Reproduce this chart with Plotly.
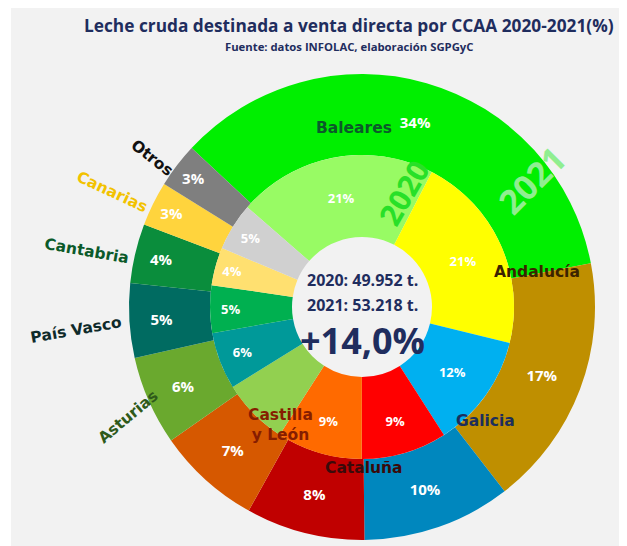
import plotly.graph_objects as go

# page has an 8px body margin; figure is placed at (8, 8)
OFF = 8
W, H = 627 - OFF, 546 - OFF

regions = ["Baleares", "Andalucía", "Galicia", "Cataluña", "Castilla y León",
           "Asturias", "País Vasco", "Cantabria", "Canarias", "Otros"]
share_2021 = [34, 17, 10, 8, 7, 6, 5, 4, 3, 3]
share_2020 = [21, 21, 12, 9, 9, 7, 6, 5, 4, 5]
show_2020 = [True, True, True, True, True, False, True, True, True, True]

colors_2021 = ["#00ef00", "#bf8f00", "#0087be", "#c00000", "#d65800",
               "#6aa92e", "#006b61", "#0a8d3c", "#ffd43d", "#7f7f7f"]
colors_2020 = ["#98fb64", "#ffff00", "#00b0f0", "#ff0000", "#ff6a00",
               "#92d050", "#009999", "#00b050", "#ffe070", "#d0d0d0"]

tons_2020 = "49.952"
tons_2021 = "53.218"
growth = "+14,0%"


def px(x, y):
    return (x - OFF) / W, 1 - (y - OFF) / H


cx, cy = 362, 307
R_out, R_mid, R_in = 233, 152, 70

text_2021 = [f"{v}%" for v in share_2021]
text_2020 = [f"{v}%" if s else "" for v, s in zip(share_2020, show_2020)]


def dom(r):
    x0, y1 = px(cx - r, cy - r)
    x1, y0 = px(cx + r, cy + r)
    return dict(x=[x0, x1], y=[max(y0, 0), y1])


fig = go.Figure()
fig.add_trace(go.Pie(
    labels=regions, values=share_2021, sort=False, direction="clockwise",
    rotation=-47, hole=R_mid / R_out,
    marker=dict(colors=colors_2021, line=dict(width=0)),
    text=text_2021, texttemplate="<b>%{text}</b>", textposition="inside",
    insidetextorientation="horizontal",
    textfont=dict(family="Open Sans", size=15, color="white"),
    domain=dom(R_out),
    showlegend=False, hoverinfo="label+value",
))
fig.add_trace(go.Pie(
    labels=regions, values=share_2020, sort=False, direction="clockwise",
    rotation=-49, hole=R_in / R_mid,
    marker=dict(colors=colors_2020, line=dict(width=0)),
    text=text_2020, texttemplate="<b>%{text}</b>", textposition="inside",
    insidetextorientation="horizontal",
    textfont=dict(family="Open Sans", size=13, color="white"),
    domain=dom(R_mid),
    showlegend=False, hoverinfo="label+value",
))

ann = []


def add(text, x, y, size, color, angle=0, family="DejaVu Sans"):
    ax, ay = px(x, y)
    ann.append(dict(text=text, x=ax, y=ay, xref="paper", yref="paper",
                    showarrow=False, textangle=angle,
                    font=dict(family=family, size=size, color=color),
                    xanchor="center", yanchor="middle"))


add("<b>Leche cruda destinada a venta directa por CCAA 2020-2021(%)</b>", 349, 25, 17.3, "#1f2d5e", family="Open Sans")
add("<b>Fuente: datos INFOLAC, elaboración SGPGyC</b>", 349, 46, 11.3, "#1f2d5e", family="Open Sans")

add("<b>Baleares</b>", 354, 128, 15.5, "#0b5a2a")
add("<b>Andalucía</b>", 537, 272, 15.5, "#3b2300")
add("<b>Galicia</b>", 485, 421, 15.5, "#1c2e5c")
add("<b>Cataluña</b>", 364, 468, 15.5, "#3a0a0a")
add("<b>Castilla<br>y León</b>", 280, 425, 15.5, "#861d00")
add("<b>Asturias</b>", 128, 417, 15.5, "#2f5a1a", angle=-40)
add("<b>País Vasco</b>", 76, 330, 15.5, "#0f2a2a", angle=-10)
add("<b>Cantabria</b>", 86, 251, 15.5, "#0b5a2a", angle=10)
add("<b>Canarias</b>", 112, 192, 15.5, "#f2c200", angle=25)
add("<b>Otros</b>", 152, 158, 15.5, "#111111", angle=38)

add("<b>2020</b>", 404, 193, 30, "#28e028", angle=-60, family="Open Sans")
add("<b>2021</b>", 532, 180, 34, "#90ee90", angle=-45, family="Open Sans")

add(f"<b>2020: {tons_2020} t.</b>", cx, 280, 16, "#1f2d5e", family="Open Sans")
add(f"<b>2021: {tons_2021} t.</b>", cx, 305, 16, "#1f2d5e", family="Open Sans")
add(f"<b>{growth}</b>", cx, 340, 36, "#1f2d5e", family="Open Sans")

fig.update_layout(
    width=W, height=H, autosize=False,
    margin=dict(l=0, r=0, t=0, b=0),
    paper_bgcolor="#f2f2f2", plot_bgcolor="#f2f2f2",
    annotations=ann,
    shapes=[dict(type="rect", xref="paper", yref="paper",
                 x0=0, x1=3 / W, y0=0, y1=1,
                 fillcolor="white", line=dict(width=0), layer="below")],
)

fig.write_html("out.html")
